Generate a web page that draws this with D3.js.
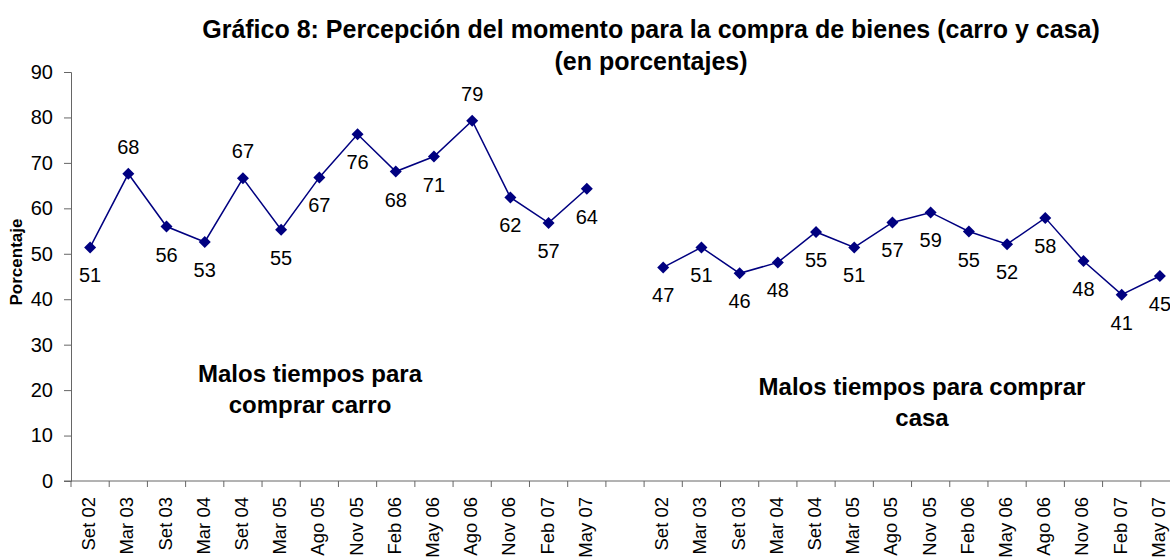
<!DOCTYPE html>
<html>
<head>
<meta charset="utf-8">
<script src="https://cdn.jsdelivr.net/npm/d3@7"></script>
<style>
  body { margin: 0; background: #fff; }
  svg { font-family: "Liberation Sans", Arial, sans-serif; }
</style>
</head>
<body>
<div id="chart"></div>
<script>
// data
var periods = ["Set 02", "Mar 03", "Set 03", "Mar 04", "Set 04", "Mar 05", "Ago 05",
               "Nov 05", "Feb 06", "May 06", "Ago 06", "Nov 06", "Feb 07", "May 07"];
var carro = [51.4, 67.6, 56.0, 52.6, 66.6, 55.3, 66.8, 76.3, 68.1, 71.4, 79.3, 62.4, 56.8, 64.3];
var casa  = [47.0, 51.4, 45.7, 48.1, 54.8, 51.4, 56.9, 59.1, 54.9, 52.1, 57.9, 48.4, 41.0, 45.1];
// which carro labels sit above the point
var carroAbove = [false, true, false, false, true, false, false, false, false, false, true, false, false, false];
var yTicks = [0, 10, 20, 30, 40, 50, 60, 70, 80, 90];

var categories = periods.concat([""]).concat(periods);

var W = 1170, H = 559;
var margin = {top: 72, left: 71, bottom: 78};
var plotRight = 1179;

var svg = d3.select("#chart").append("svg")
    .attr("width", W)
    .attr("height", H);

var x = d3.scaleBand()
    .domain(d3.range(categories.length))
    .range([margin.left, plotRight])
    .paddingInner(0).paddingOuter(0);

var y = d3.scaleLinear()
    .domain([0, 90])
    .range([H - margin.bottom, margin.top]);

var cx = function (i) { return x(i) + x.bandwidth() / 2; };

// y axis
var yAxis = svg.append("g")
    .attr("transform", "translate(" + margin.left + ",0)")
    .call(d3.axisLeft(y).tickValues(yTicks).tickSize(7).tickPadding(11));
yAxis.select(".domain").attr("stroke", "#666");
yAxis.selectAll(".tick line").attr("stroke", "#666");
yAxis.selectAll("text").attr("font-size", 20).attr("fill", "#000")
    .attr("font-family", "Liberation Sans, Arial, sans-serif");

// x axis, tick marks at category boundaries
var xg = svg.append("g").attr("transform", "translate(0," + y(0) + ")");
xg.append("line")
    .attr("x1", margin.left - 7).attr("x2", plotRight)
    .attr("stroke", "#666");
xg.selectAll("line.tk")
    .data(d3.range(categories.length + 1))
    .enter().append("line")
    .attr("class", "tk")
    .attr("x1", function (d) { return margin.left + d * x.step(); })
    .attr("x2", function (d) { return margin.left + d * x.step(); })
    .attr("y1", 0).attr("y2", 6)
    .attr("stroke", "#666");
xg.selectAll("text")
    .data(categories.map(function (c, i) { return {c: c, i: i}; }).filter(function (d) { return d.c; }))
    .enter().append("text")
    .attr("transform", function (d) { return "translate(" + (cx(d.i) + 5) + ",16) rotate(-90)"; })
    .attr("text-anchor", "end")
    .attr("font-size", 18.5)
    .text(function (d) { return d.c; });

// axis title
svg.append("text")
    .attr("transform", "translate(22,262) rotate(-90)")
    .attr("text-anchor", "middle")
    .attr("font-size", 17)
    .attr("font-weight", "bold")
    .text("Porcentaje");

// title
svg.append("text").attr("x", 651).attr("y", 38)
    .attr("text-anchor", "middle").attr("font-size", 25).attr("font-weight", "bold")
    .text("Gráfico 8: Percepción del momento para la compra de bienes (carro y casa)");
svg.append("text").attr("x", 651).attr("y", 70)
    .attr("text-anchor", "middle").attr("font-size", 25).attr("font-weight", "bold")
    .text("(en porcentajes)");

var navy = "#000080";
var line = d3.line()
    .x(function (d) { return cx(d.i); })
    .y(function (d) { return y(d.v); });

function drawSeries(values, offset, above) {
  var pts = values.map(function (v, k) { return {i: k + offset, v: v, up: above ? above[k] : false}; });
  var g = svg.append("g");
  g.append("path")
      .datum(pts)
      .attr("fill", "none")
      .attr("stroke", navy)
      .attr("stroke-width", 1.5)
      .attr("d", line);
  g.selectAll("path.pt")
      .data(pts)
      .enter().append("path")
      .attr("class", "pt")
      .attr("d", "M0,-6L6,0L0,6L-6,0Z")
      .attr("fill", navy)
      .attr("transform", function (d) { return "translate(" + cx(d.i) + "," + y(d.v) + ")"; });
  g.selectAll("text")
      .data(pts)
      .enter().append("text")
      .attr("x", function (d) { return cx(d.i); })
      .attr("y", function (d) { return y(d.v) + (d.up ? -20 : 35); })
      .attr("text-anchor", "middle")
      .attr("font-size", 20)
      .text(function (d) { return Math.round(d.v); });
}

drawSeries(carro, 0, carroAbove);
drawSeries(casa, periods.length + 1, null);

// series notes
var notes = [
  {lines: ["Malos tiempos para", "comprar carro"], x: 310, y: 382},
  {lines: ["Malos tiempos para comprar", "casa"], x: 922, y: 395}
];
notes.forEach(function (n) {
  n.lines.forEach(function (t, k) {
    svg.append("text")
        .attr("x", n.x).attr("y", n.y + k * 31)
        .attr("text-anchor", "middle")
        .attr("font-size", 24)
        .attr("font-weight", "bold")
        .text(t);
  });
});
</script>
</body>
</html>
